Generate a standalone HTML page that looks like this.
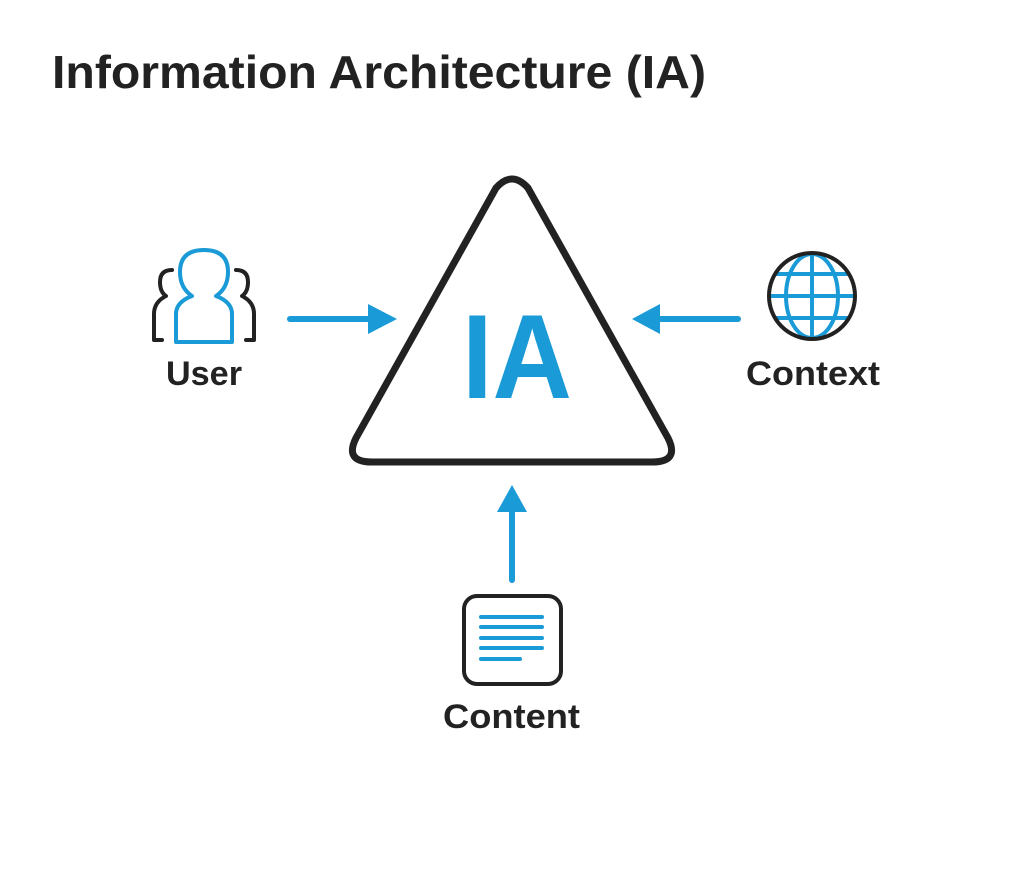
<!DOCTYPE html>
<html><head><style>
html,body{margin:0;padding:0;background:#fff;}
svg{display:block;}
text{font-family:"Liberation Sans",sans-serif;font-weight:bold;}
</style></head><body>
<svg width="1024" height="892" viewBox="0 0 1024 892" xmlns="http://www.w3.org/2000/svg">
<rect width="1024" height="892" fill="#fff"/>
<text x="52" y="88" font-size="46" fill="#222" textLength="654" lengthAdjust="spacingAndGlyphs">Information Architecture (IA)</text>

<path d="M496 188 Q512 170 528 188 L668 438 Q680 462 652 462 L372 462 Q344 462 356 438 Z" fill="none" stroke="#222" stroke-width="7" stroke-linejoin="round"/>
<text x="462" y="398" font-size="120" fill="#1a9ad6" textLength="110" lengthAdjust="spacingAndGlyphs">IA</text>

<g fill="none" stroke-width="4" stroke-linecap="round" stroke-linejoin="round">
  <path d="M176 342 L176 314 Q176 302 192 296 Q180 288 180 272 Q180 250 204 250 Q228 250 228 272 Q228 288 216 296 Q232 302 232 314 L232 342 Z" stroke="#1a9ad6"/>
  <path d="M172 270 Q160 270 160 282 Q160 292 166 296 Q154 302 154 314 L154 340 L162 340" stroke="#222"/>
  <path d="M236 270 Q248 270 248 282 Q248 292 242 296 Q254 302 254 314 L254 340 L246 340" stroke="#222"/>
</g>
<text x="166" y="385" font-size="34" fill="#222" textLength="76" lengthAdjust="spacingAndGlyphs">User</text>
<line x1="290" y1="319" x2="372" y2="319" stroke="#1a9ad6" stroke-width="6" stroke-linecap="round"/>
<polygon points="368,304 397,319 368,334" fill="#1a9ad6"/>

<g fill="none" stroke="#1a9ad6" stroke-width="4">
  <line x1="812" y1="253" x2="812" y2="339"/>
  <ellipse cx="812" cy="296" rx="26" ry="42"/>
  <line x1="776" y1="274" x2="848" y2="274"/>
  <line x1="769" y1="296" x2="855" y2="296"/>
  <line x1="776" y1="318" x2="848" y2="318"/>
</g>
<circle cx="812" cy="296" r="43" fill="none" stroke="#222" stroke-width="4"/>
<text x="746" y="385" font-size="34" fill="#222" textLength="134" lengthAdjust="spacingAndGlyphs">Context</text>
<line x1="738" y1="319" x2="656" y2="319" stroke="#1a9ad6" stroke-width="6" stroke-linecap="round"/>
<polygon points="660,304 632,319 660,334" fill="#1a9ad6"/>

<line x1="512" y1="580" x2="512" y2="508" stroke="#1a9ad6" stroke-width="6" stroke-linecap="round"/>
<polygon points="497,512 512,485 527,512" fill="#1a9ad6"/>
<rect x="464" y="596" width="97" height="88" rx="13" fill="none" stroke="#222" stroke-width="4"/>
<g stroke="#1a9ad6" stroke-width="4" stroke-linecap="round">
  <line x1="481" y1="617" x2="542" y2="617"/>
  <line x1="481" y1="627" x2="542" y2="627"/>
  <line x1="481" y1="638" x2="542" y2="638"/>
  <line x1="481" y1="648" x2="542" y2="648"/>
  <line x1="481" y1="659" x2="520" y2="659"/>
</g>
<text x="443" y="728" font-size="34" fill="#222" textLength="137" lengthAdjust="spacingAndGlyphs">Content</text>
</svg>
</body></html>
